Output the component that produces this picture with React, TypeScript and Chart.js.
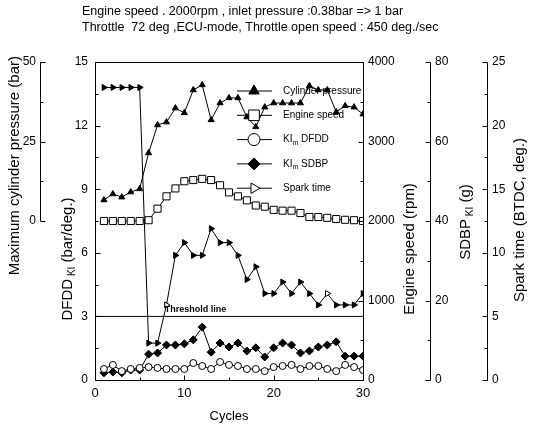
import React, { useEffect, useRef } from 'react';
import { Chart, registerables } from 'chart.js';

Chart.register(...registerables);

const titleLines = [
  'Engine speed . 2000rpm , inlet pressure :0.38bar => 1 bar',
  'Throttle  72 deg ,ECU-mode, Throttle open speed : 450 deg./sec',
];

const cycles = [1, 2, 3, 4, 5, 6, 7, 8, 9, 10, 11, 12, 13, 14, 15, 16, 17, 18, 19, 20, 21, 22, 23, 24, 25, 26, 27, 28, 29, 30];
const cylinderPressure = [6.6, 8.5, 7.5, 9.1, 10.1, 21.4, 30.2, 31.1, 35.5, 34.0, 41.2, 42.8, 31.8, 37.1, 38.7, 38.7, 32.7, 29.6, 35.8, 37.1, 37.1, 37.1, 37.1, 42.5, 41.2, 41.2, 34.3, 36.2, 35.8, 33.6];
const engineSpeed = [2000, 2000, 2000, 2000, 2000, 2010, 2155, 2310, 2410, 2500, 2515, 2530, 2515, 2450, 2360, 2310, 2260, 2195, 2180, 2140, 2130, 2130, 2100, 2050, 2050, 2040, 2025, 2015, 2010, 2000];
const kiDfdd = [0.52, 0.71, 0.42, 0.52, 0.57, 0.61, 0.57, 0.52, 0.52, 0.52, 0.8, 0.66, 0.52, 0.85, 0.71, 0.66, 0.52, 0.52, 0.42, 0.61, 0.66, 0.71, 0.52, 0.66, 0.66, 0.52, 0.42, 0.71, 0.61, 0.47];
const kiSdbp = [1.8, 2.0, 1.8, 2.5, 2.5, 6.5, 6.8, 8.8, 8.8, 9.1, 10.1, 13.3, 7.0, 9.3, 8.3, 9.3, 7.3, 8.1, 5.8, 8.1, 9.3, 8.8, 6.8, 7.3, 8.3, 8.8, 9.6, 6.0, 6.0, 6.0];
const sparkTime = [23, 23, 23, 23, 23, 2.9, 2.9, 5.9, 9.8, 10.8, 9.8, 9.8, 11.9, 10.8, 10.8, 9.8, 7.9, 8.9, 6.8, 6.8, 7.7, 6.8, 7.7, 6.8, 5.9, 6.8, 5.9, 5.9, 5.9, 6.8];
const sparkOpenCycles = [8, 26];
const thresholdLevel = 3;
const thresholdLabel = 'Threshold line';

const xTicks = { min: 0, max: 30, step: 10 };
const dfddTicks = { min: 0, max: 15, step: 3 };
const cylTicks = { min: 0, max: 50, step: 25 };
const engineTicks = { min: 0, max: 4000, step: 1000 };
const sdbpTicks = { min: 0, max: 80, step: 20 };
const sparkTicks = { min: 0, max: 25, step: 5 };

type Part = { t: string; sub?: boolean };
const axisTitles: Record<string, Part[]> = {
  yCyl: [{ t: 'Maximum cylinder pressure (bar)' }],
  y: [{ t: 'DFDD' }, { t: ' KI', sub: true }, { t: ' (bar/deg.)' }],
  yEng: [{ t: 'Engine speed (rpm)' }],
  ySdbp: [{ t: 'SDBP' }, { t: ' KI', sub: true }, { t: ' (g)' }],
  ySpark: [{ t: 'Spark time (BTDC, deg.)' }],
};
const legendLabels: Part[][] = [
  [{ t: 'Cylinder pressure' }],
  [{ t: 'Engine speed' }],
  [{ t: 'KI' }, { t: 'm', sub: true }, { t: ' DFDD' }],
  [{ t: 'KI' }, { t: 'm', sub: true }, { t: ' SDBP' }],
  [{ t: 'Spark time' }],
];

const FONT = 'Arial';

function drawParts(ctx: CanvasRenderingContext2D, parts: Part[], size: number, start: number) {
  let x = start;
  for (const p of parts) {
    ctx.font = `${p.sub ? Math.round(size * 0.65) : size}px ${FONT}`;
    ctx.fillText(p.t, x, p.sub ? size * 0.3 : 0);
    x += ctx.measureText(p.t).width;
  }
}
function partsWidth(ctx: CanvasRenderingContext2D, parts: Part[], size: number) {
  let w = 0;
  for (const p of parts) {
    ctx.font = `${p.sub ? Math.round(size * 0.65) : size}px ${FONT}`;
    w += ctx.measureText(p.t).width;
  }
  return w;
}
function vText(ctx: CanvasRenderingContext2D, parts: Part[], size: number, x: number, y: number, anchor: 'center' | 'end') {
  ctx.save();
  ctx.translate(x, y);
  ctx.rotate(-Math.PI / 2);
  ctx.textBaseline = 'middle';
  ctx.textAlign = 'left';
  ctx.fillStyle = '#000';
  const w = partsWidth(ctx, parts, size);
  drawParts(ctx, parts, size, anchor === 'center' ? -w / 2 : -w);
  ctx.restore();
}

function marker(ctx: CanvasRenderingContext2D, style: string, rot: number, x: number, y: number, r: number, fill: string) {
  ctx.beginPath();
  if (style === 'circle') {
    ctx.arc(x, y, r, 0, Math.PI * 2);
  } else if (style === 'rect') {
    const s = r * Math.SQRT1_2;
    ctx.rect(x - s, y - s, 2 * s, 2 * s);
  } else if (style === 'rectRot') {
    ctx.moveTo(x, y - r); ctx.lineTo(x + r, y); ctx.lineTo(x, y + r); ctx.lineTo(x - r, y);
    ctx.closePath();
  } else {
    const a0 = (rot - 90) * Math.PI / 180;
    for (let i = 0; i < 3; i++) {
      const a = a0 + i * 2 * Math.PI / 3;
      const px = x + r * Math.cos(a), py = y + r * Math.sin(a);
      if (i === 0) ctx.moveTo(px, py); else ctx.lineTo(px, py);
    }
    ctx.closePath();
  }
  ctx.fillStyle = fill;
  ctx.fill();
  ctx.strokeStyle = '#000';
  ctx.lineWidth = 1;
  ctx.stroke();
}

function vTicks(ctx: CanvasRenderingContext2D, scale: any, t: { min: number; max: number; step: number }, xLine: number, dir: number, from: number, to: number) {
  const n = Math.round((to - from) / (t.step / 2));
  for (let i = 0; i <= n; i++) {
    const v = from + i * t.step / 2;
    const y = Math.round(scale.getPixelForValue(v)) + 0.5;
    const len = i % 2 === 0 ? 5 : 3;
    ctx.beginPath();
    ctx.moveTo(xLine, y);
    ctx.lineTo(xLine + dir * len, y);
    ctx.stroke();
  }
}

const decor = {
  id: 'decor',
  afterDraw(chart: any) {
    const ctx: CanvasRenderingContext2D = chart.ctx;
    const a = chart.chartArea;
    const s = chart.scales;
    ctx.save();
    ctx.strokeStyle = '#000';
    ctx.fillStyle = '#000';
    ctx.lineWidth = 1;
    const L = Math.round(a.left) + 0.5, R = Math.round(a.right) + 0.5;
    const T = Math.round(a.top) + 0.5, B = Math.round(a.bottom) + 0.5;
    ctx.strokeRect(L, T, R - L, B - T);

    vTicks(ctx, s.y, dfddTicks, L, 1, dfddTicks.min, dfddTicks.max);
    vTicks(ctx, s.yEng, engineTicks, R, -1, engineTicks.min, engineTicks.max);
    const cx = Math.round(s.yCyl.right) + 0.5;
    ctx.beginPath();
    ctx.moveTo(cx, s.yCyl.getPixelForValue(cylTicks.min));
    ctx.lineTo(cx, s.yCyl.getPixelForValue(cylTicks.max));
    ctx.stroke();
    vTicks(ctx, s.yCyl, cylTicks, cx, 1, cylTicks.min, cylTicks.max);
    for (const [id, t] of [['ySdbp', sdbpTicks], ['ySpark', sparkTicks]] as const) {
      const sx = Math.round(s[id].left) + 0.5;
      ctx.beginPath();
      ctx.moveTo(sx, T);
      ctx.lineTo(sx, B);
      ctx.stroke();
      vTicks(ctx, s[id], t, sx, -1, t.min, t.max);
    }
    for (let v = xTicks.min; v <= xTicks.max; v += xTicks.step / 2) {
      const x = Math.round(s.x.getPixelForValue(v)) + 0.5;
      const len = v % xTicks.step === 0 ? 5 : 3;
      ctx.beginPath();
      ctx.moveTo(x, B);
      ctx.lineTo(x, B - len);
      ctx.stroke();
    }

    vText(ctx, axisTitles.yCyl, 15, s.yCyl.left + 15, a.top - 6, 'end');
    vText(ctx, axisTitles.y, 15, s.y.left + 28, a.top + 197, 'center');
    vText(ctx, axisTitles.yEng, 15, s.yEng.left + 47, a.top + 187, 'center');
    vText(ctx, axisTitles.ySdbp, 15, s.ySdbp.left + 36, a.top + 160, 'center');
    vText(ctx, axisTitles.ySpark, 15, s.ySpark.left + 33, a.top + 158, 'center');

    ctx.textAlign = 'left';
    ctx.textBaseline = 'middle';
    ctx.font = `12.5px ${FONT}`;
    titleLines.forEach((line, i) => ctx.fillText(line, 82, 12 + i * 16));

    ctx.font = `bold 9px ${FONT}`;
    ctx.textBaseline = 'bottom';
    ctx.fillText(thresholdLabel, s.x.getPixelForValue(7.8), s.y.getPixelForValue(thresholdLevel) - 2);

    const ds = chart.data.datasets;
    legendLabels.forEach((parts, i) => {
      const d = ds[i];
      const y = a.top + 29 + i * 24.3;
      ctx.beginPath();
      ctx.moveTo(a.left + 142, y);
      ctx.lineTo(a.left + 177, y);
      ctx.strokeStyle = '#000';
      ctx.stroke();
      const openLegend = i === 4;
      marker(ctx, d.pointStyle, d.pointRotation || 0, a.left + 159, y, i === 1 ? 7.5 : 6, openLegend ? '#fff' : (typeof d.pointBackgroundColor === 'string' ? d.pointBackgroundColor : '#000'));
      ctx.save();
      ctx.translate(a.left + 188, y);
      ctx.textBaseline = 'middle';
      ctx.fillStyle = '#000';
      drawParts(ctx, parts, 10, 0);
      ctx.restore();
    });
    ctx.restore();
  },
};

export default function App() {
  const ref = useRef<HTMLCanvasElement>(null);
  useEffect(() => {
    if (!ref.current) return;
    const pts = (vals: number[]) => cycles.map((c, i) => ({ x: c, y: vals[i] }));
    const tickFont = { family: FONT, size: 12 };
    const noGrid = { display: false, drawTicks: false };
    const plain = (v: any) => String(v);
    const chart = new Chart(ref.current, {
      type: 'line',
      data: {
        datasets: [
          {
            label: 'Cylinder pressure', data: pts(cylinderPressure), yAxisID: 'yCyl',
            borderColor: '#000', borderWidth: 1, pointStyle: 'triangle', pointRadius: 3.5,
            pointBackgroundColor: '#000', pointBorderColor: '#000', pointBorderWidth: 1,
          },
          {
            label: 'Engine speed', data: pts(engineSpeed), yAxisID: 'yEng',
            borderColor: '#000', borderWidth: 1, pointStyle: 'rect', pointRadius: 5,
            pointBackgroundColor: '#fff', pointBorderColor: '#000', pointBorderWidth: 1,
          },
          {
            label: 'KIm DFDD', data: pts(kiDfdd), yAxisID: 'y',
            borderColor: '#000', borderWidth: 1, pointStyle: 'circle', pointRadius: 3.5,
            pointBackgroundColor: '#fff', pointBorderColor: '#000', pointBorderWidth: 1,
          },
          {
            label: 'KIm SDBP', data: pts(kiSdbp), yAxisID: 'ySdbp',
            borderColor: '#000', borderWidth: 1, pointStyle: 'rectRot', pointRadius: 4,
            pointBackgroundColor: '#000', pointBorderColor: '#000', pointBorderWidth: 1,
          },
          {
            label: 'Spark time', data: pts(sparkTime), yAxisID: 'ySpark',
            borderColor: '#000', borderWidth: 1, pointStyle: 'triangle', pointRotation: 90, pointRadius: 3.5,
            pointBackgroundColor: (c: any) => (sparkOpenCycles.includes(cycles[c.dataIndex]) ? '#fff' : '#000'),
            pointBorderColor: '#000', pointBorderWidth: 1,
          },
          {
            label: thresholdLabel, data: [{ x: xTicks.min, y: thresholdLevel }, { x: xTicks.max, y: thresholdLevel }], yAxisID: 'y',
            borderColor: '#000', borderWidth: 1, pointRadius: 0,
          },
        ] as any,
      },
      options: {
        animation: false,
        responsive: false,
        devicePixelRatio: 1,
        layout: { padding: { top: 62, left: 0, right: 0, bottom: 0 } },
        plugins: { legend: { display: false }, tooltip: { enabled: false }, title: { display: false } },
        elements: { line: { tension: 0 } },
        scales: {
          x: {
            type: 'linear', position: 'bottom', min: xTicks.min, max: xTicks.max,
            ticks: { stepSize: xTicks.step, font: { family: FONT, size: 13 }, color: '#000', padding: 6, callback: plain },
            grid: noGrid, border: { display: false },
            title: { display: true, text: 'Cycles', font: { family: FONT, size: 13 }, color: '#000', padding: { top: 0, bottom: 2 } },
            afterFit: (sc: any) => { sc.height = 46; },
          },
          yCyl: {
            type: 'linear', position: 'left', weight: 2, min: -cylTicks.max, max: cylTicks.max,
            ticks: { stepSize: cylTicks.step, font: tickFont, color: '#000', padding: 4, callback: (v: any) => (v >= 0 ? String(v) : '') },
            grid: noGrid, border: { display: false },
            afterFit: (sc: any) => { sc.width = 40; },
          },
          y: {
            type: 'linear', position: 'left', weight: 1, min: dfddTicks.min, max: dfddTicks.max,
            ticks: { stepSize: dfddTicks.step, font: tickFont, color: '#000', padding: 7, callback: plain },
            grid: noGrid, border: { display: false },
            afterFit: (sc: any) => { sc.width = 55; },
          },
          yEng: {
            type: 'linear', position: 'right', weight: 1, min: engineTicks.min, max: engineTicks.max,
            ticks: { stepSize: engineTicks.step, font: tickFont, color: '#000', padding: 5, callback: plain },
            grid: noGrid, border: { display: false },
            afterFit: (sc: any) => { sc.width = 67; },
          },
          ySdbp: {
            type: 'linear', position: 'right', weight: 2, min: sdbpTicks.min, max: sdbpTicks.max,
            ticks: { stepSize: sdbpTicks.step, font: tickFont, color: '#000', padding: 5, callback: plain },
            grid: noGrid, border: { display: false },
            afterFit: (sc: any) => { sc.width = 57; },
          },
          ySpark: {
            type: 'linear', position: 'right', weight: 3, min: sparkTicks.min, max: sparkTicks.max,
            ticks: { stepSize: sparkTicks.step, font: tickFont, color: '#000', padding: 5, callback: plain },
            grid: noGrid, border: { display: false },
            afterFit: (sc: any) => { sc.width = 46; },
          },
        },
      } as any,
      plugins: [decor],
    });
    return () => chart.destroy();
  }, []);
  return (
    <div style={{ position: 'absolute', left: 0, top: 0, width: 533, height: 426, background: '#fff' }}>
      <canvas ref={ref} width={533} height={426} style={{ width: 533, height: 426 }} />
    </div>
  );
}
